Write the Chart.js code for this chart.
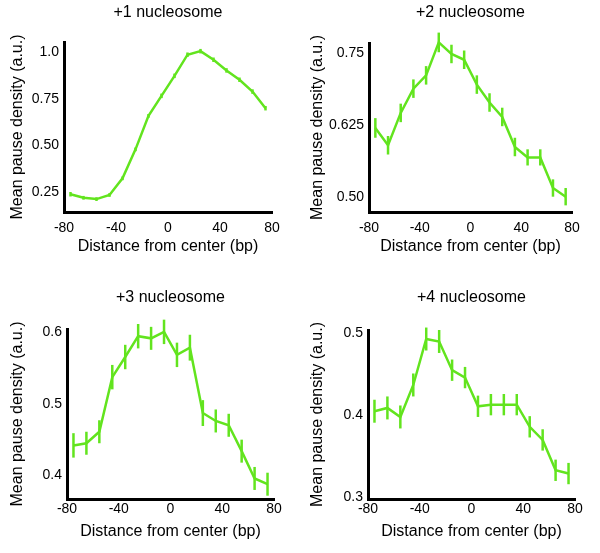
<!DOCTYPE html>
<html>
<head>
<meta charset="utf-8">
<script src="https://cdn.jsdelivr.net/npm/chart.js@4/dist/chart.umd.min.js"></script>
<style>
  html, body { margin: 0; padding: 0; background: #fff; }
  #wrap { position: relative; width: 600px; height: 553px; }
  canvas { position: absolute; }
</style>
</head>
<body>
<div id="wrap">
  <canvas id="c1" width="300" height="280" style="left:0;top:0"></canvas>
  <canvas id="c2" width="300" height="280" style="left:300px;top:0"></canvas>
  <canvas id="c3" width="300" height="268" style="left:0;top:285px"></canvas>
  <canvas id="c4" width="300" height="268" style="left:300px;top:285px"></canvas>
</div>
<script>
// Bin centres (bp from nucleosome dyad)
const positions = [-75, -65, -55, -45, -35, -25, -15, -5, 5, 15, 25, 35, 45, 55, 65, 75];
const xTicks = [-80, -40, 0, 40, 80];
const xTickLabels = ['-80', '-40', '0', '40', '80'];

// Mean pause density per nucleosome
const density1 = [0.24, 0.221, 0.214, 0.236, 0.325, 0.48, 0.659, 0.766, 0.873, 0.986, 1.005, 0.959, 0.902, 0.852, 0.789, 0.70];
const density2 = [0.620, 0.590, 0.646, 0.688, 0.711, 0.768, 0.748, 0.738, 0.695, 0.664, 0.639, 0.587, 0.569, 0.569, 0.516, 0.501];
const density3 = [0.442, 0.445, 0.461, 0.537, 0.565, 0.594, 0.591, 0.600, 0.568, 0.578, 0.487, 0.476, 0.470, 0.434, 0.396, 0.388];
const density4 = [0.405, 0.409, 0.398, 0.437, 0.493, 0.490, 0.455, 0.446, 0.411, 0.413, 0.413, 0.413, 0.386, 0.370, 0.333, 0.329];

// Error bar half-lengths
const error1 = [0.012, 0.01, 0.01, 0.01, 0.01, 0.01, 0.01, 0.012, 0.012, 0.012, 0.012, 0.012, 0.012, 0.012, 0.012, 0.012];
const error2 = [0.017, 0.016, 0.016, 0.016, 0.016, 0.017, 0.016, 0.016, 0.016, 0.016, 0.016, 0.016, 0.014, 0.014, 0.015, 0.015];
const error3 = [0.017, 0.016, 0.016, 0.017, 0.017, 0.017, 0.016, 0.017, 0.017, 0.018, 0.018, 0.016, 0.016, 0.016, 0.016, 0.016];
const error4 = [0.014, 0.014, 0.014, 0.014, 0.014, 0.014, 0.013, 0.013, 0.013, 0.013, 0.013, 0.013, 0.013, 0.013, 0.013, 0.013];

// Y ticks and labels
const yTicks1 = [0.25, 0.5, 0.75, 1.0];
const yTickLabels1 = ['0.25', '0.50', '0.75', '1.0'];
const yTicks2 = [0.5, 0.625, 0.75];
const yTickLabels2 = ['0.50', '0.625', '0.75'];
const yTicks3 = [0.4, 0.5, 0.6];
const yTickLabels3 = ['0.4', '0.5', '0.6'];
const yTicks4 = [0.3, 0.4, 0.5];
const yTickLabels4 = ['0.3', '0.4', '0.5'];

const titles = ['+1 nucleosome', '+2 nucleosome', '+3 nucleosome', '+4 nucleosome'];

const FONT = "'Liberation Sans', Arial, Helvetica, sans-serif";
const GREEN = '#62e41e';

// draws the vertical error bars through the chart scales
const errorBars = {
  id: 'errorBars',
  afterDatasetsDraw(chart) {
    const ctx = chart.ctx;
    const xs = chart.scales.x, ys = chart.scales.y;
    chart.data.datasets.forEach(ds => {
      if (!ds.errors) return;
      ctx.save();
      ctx.strokeStyle = ds.borderColor;
      ctx.lineWidth = 2.5;
      ds.data.forEach((p, i) => {
        const px = xs.getPixelForValue(p.x);
        ctx.beginPath();
        ctx.moveTo(px, ys.getPixelForValue(p.y - ds.errors[i]));
        ctx.lineTo(px, ys.getPixelForValue(p.y + ds.errors[i]));
        ctx.stroke();
      });
      ctx.restore();
    });
  }
};

function makePanel(id, title, values, errors, yTicks, yLabels, yMin, yMax, box) {
  const canvas = document.getElementById(id);
  new Chart(canvas, {
    type: 'line',
    data: {
      datasets: [{
        data: positions.map((x, i) => ({ x: x, y: values[i] })),
        errors: errors,
        borderColor: GREEN,
        borderWidth: 2.5,
        pointRadius: 0,
        tension: 0,
        fill: false,
        clip: false
      }]
    },
    options: {
      responsive: false,
      animation: false,
      layout: { padding: { left: 0, top: 0, bottom: 0, right: canvas.width - box.right } },
      plugins: {
        legend: { display: false },
        tooltip: { enabled: false },
        title: {
          display: true,
          text: title,
          color: '#000',
          fullSize: false,
          font: { family: FONT, size: 16, weight: 'normal' },
          padding: { top: box.titleY - 9.6, bottom: box.top - box.titleY - 9.6 }
        }
      },
      scales: {
        x: {
          type: 'linear',
          min: -80,
          max: 80,
          afterBuildTicks: s => { s.ticks = xTicks.map(v => ({ value: v })); },
          afterFit: s => { s.height = canvas.height - box.bottom; },
          grid: { display: false, drawTicks: false },
          border: { display: true, color: '#000', width: 3 },
          ticks: {
            color: '#000',
            padding: box.xTickPad,
            maxRotation: 0,
            font: { family: FONT, size: 14 },
            callback: v => xTickLabels[xTicks.indexOf(v)]
          },
          title: {
            display: true,
            text: 'Distance from center (bp)',
            color: '#000',
            font: { family: FONT, size: 16 },
            padding: { top: 0, bottom: box.xTitlePad }
          }
        },
        y: {
          type: 'linear',
          min: yMin,
          max: yMax,
          afterBuildTicks: s => { s.ticks = yTicks.map(v => ({ value: v })); },
          afterFit: s => { s.width = box.left; },
          grid: { display: false, drawTicks: false },
          border: { display: true, color: '#000', width: 3 },
          ticks: {
            color: '#000',
            padding: 5,
            font: { family: FONT, size: 14 },
            callback: v => yLabels[yTicks.indexOf(v)]
          },
          title: {
            display: true,
            text: 'Mean pause density (a.u.)',
            color: '#000',
            font: { family: FONT, size: 16 },
            padding: { top: 8, bottom: 0 }
          }
        }
      }
    },
    plugins: [errorBars]
  });
}

makePanel('c1', titles[0], density1, error1, yTicks1, yTickLabels1, 0.145, 1.054,
  { left: 64, right: 272, top: 42, bottom: 212, titleY: 13, xTickPad: 8, xTitlePad: 23.4 });
makePanel('c2', titles[1], density2, error2, yTicks2, yTickLabels2, 0.4745, 0.767,
  { left: 69, right: 272, top: 43, bottom: 212, titleY: 13, xTickPad: 8, xTitlePad: 23.4 });
makePanel('c3', titles[2], density3, error3, yTicks3, yTickLabels3, 0.3674, 0.604,
  { left: 67, right: 274, top: 44, bottom: 214, titleY: 13, xTickPad: 2, xTitlePad: 11.4 });
makePanel('c4', titles[3], density4, error4, yTicks4, yTickLabels4, 0.298, 0.504,
  { left: 68, right: 275, top: 45, bottom: 214, titleY: 13, xTickPad: 2, xTitlePad: 11.4 });
</script>
</body>
</html>
